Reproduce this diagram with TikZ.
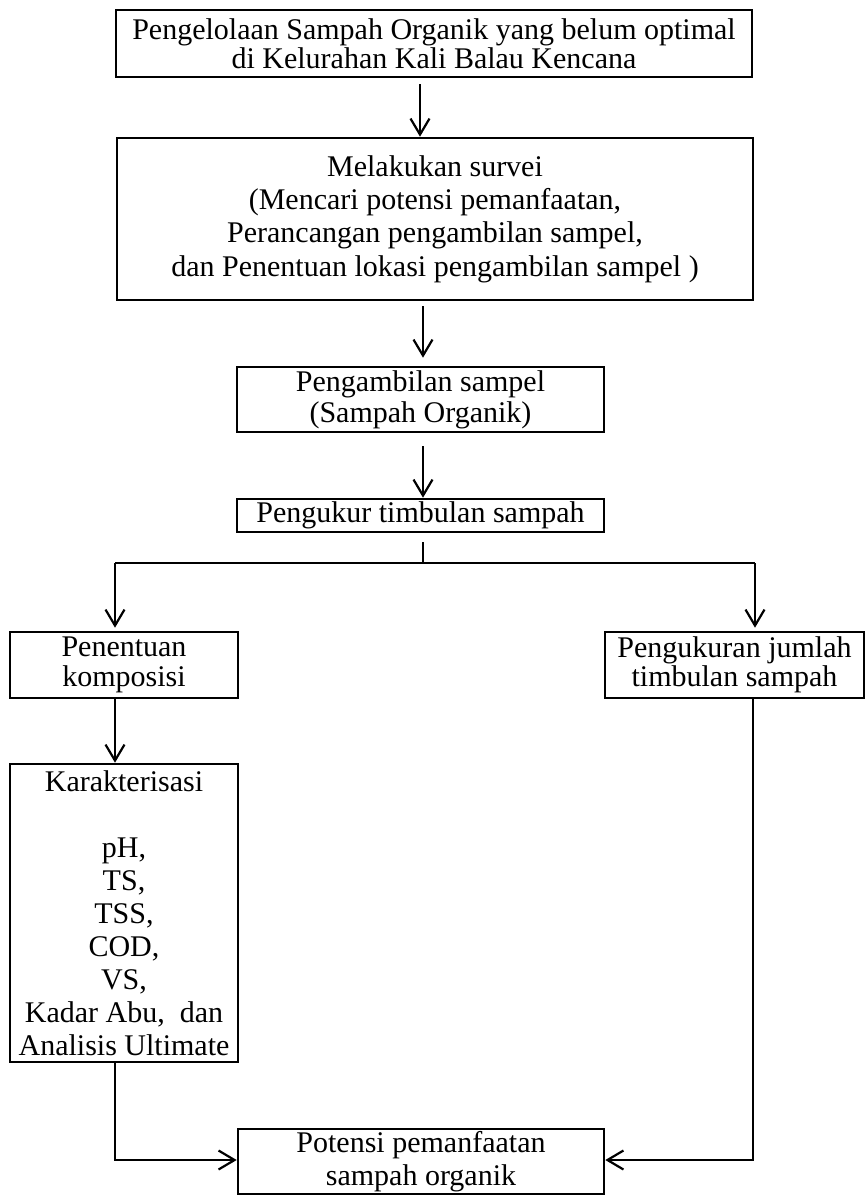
\documentclass[tikz,border=0pt]{standalone}
\usepackage{fontspec}
\setmainfont{Liberation Serif}
\usetikzlibrary{arrows.meta}
\begin{document}
\begin{tikzpicture}[x=1pt,y=-1pt,
  box/.style={draw,line width=2.6pt,align=center,inner sep=0pt,font=\fontsize{30}{33}\selectfont},
  conn/.style={line width=2.2pt},
  arr/.style={line width=2.2pt,-{Straight Barb[length=16pt,width=19pt,line width=2.2pt]}}]
\useasboundingbox (0,0) rectangle (866,1195);
\node[box,minimum width=636pt,minimum height=67pt,font=\fontsize{30}{28.5}\selectfont] (b1) at (434,43.5)
  {Pengelolaan Sampah Organik yang belum optimal\\di Kelurahan Kali Balau Kencana};
\node[box,minimum width=636pt,minimum height=162pt,font=\fontsize{30}{33.3}\selectfont] (b2) at (435,219)
  {Melakukan survei\\(Mencari potensi pemanfaatan,\\Perancangan pengambilan sampel,\\dan Penentuan lokasi pengambilan sampel )};
\node[box,minimum width=367pt,minimum height=65pt,font=\fontsize{30}{31}\selectfont] (b3) at (420.5,399.5)
  {Pengambilan sampel\\(Sampah Organik)};
\node[box,minimum width=367pt,minimum height=33pt] (b4) at (420.5,515.5)
  {Pengukur timbulan sampah};
\node[box,minimum width=228pt,minimum height=66pt,font=\fontsize{30}{29.5}\selectfont] (b5) at (124,665)
  {Penentuan\\komposisi};
\node[box,minimum width=259pt,minimum height=66pt,font=\fontsize{30}{29.5}\selectfont] (b6) at (734.5,665)
  {Pengukuran jumlah\\timbulan sampah};
\node[box,minimum width=228pt,minimum height=298pt] (b7) at (124,913)
  {Karakterisasi\\[33pt]pH,\\TS,\\TSS,\\COD,\\VS,\\Kadar Abu,\ \ dan\\Analisis Ultimate};
\node[box,minimum width=366pt,minimum height=65pt] (b8) at (421,1161.5)
  {Potensi pemanfaatan\\sampah organik};
\coordinate (c1) at (420,0);
\coordinate (c2) at (423,0);
\coordinate (f) at (423,563);
\coordinate (fl) at (115,563);
\coordinate (fr) at (755,563);
\coordinate (j1) at (115,1160);
\coordinate (j2) at (753,1160);
\draw[arr,shorten <=6pt] (b1.south -| c1) -- (b2.north -| c1);
\draw[arr,shorten <=5pt,shorten >=8pt] (b2.south -| c2) -- (b3.north -| c2);
\draw[arr,shorten <=13pt] (b3.south -| c2) -- (b4.north -| c2);
\draw[conn,shorten <=9pt] (b4.south -| f) -- (f);
\draw[conn] (fl) -- (fr);
\draw[arr,shorten >=3pt] (fl) -- (b5.north -| fl);
\draw[arr,shorten >=3pt] (fr) -- (b6.north -| fr);
\draw[arr] (b5.south -| fl) -- (b7.north -| fl);
\draw[arr] (b7.south -| j1) -- (j1) -- (b8.west |- j1);
\draw[arr] (b6.south -| j2) -- (j2) -- (b8.east |- j2);
\end{tikzpicture}
\end{document}
